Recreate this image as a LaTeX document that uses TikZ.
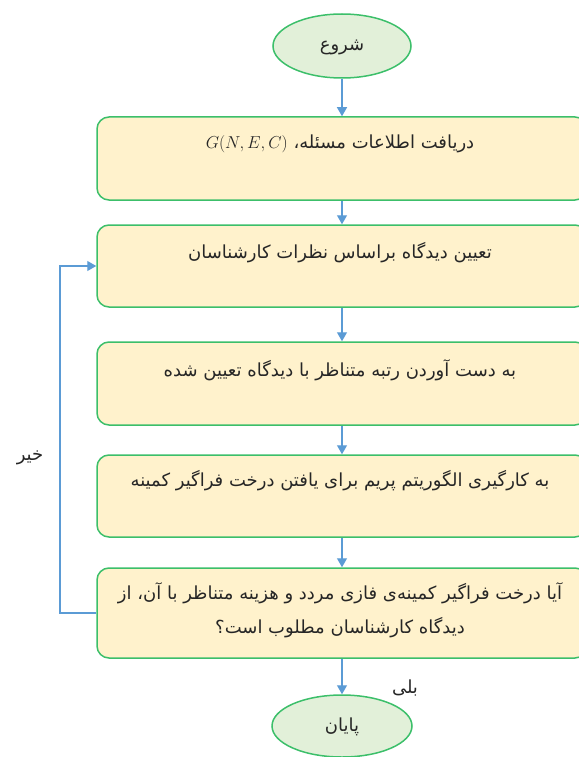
\documentclass[tikz,border=0pt]{standalone}
\usepackage{fontspec}
\usetikzlibrary{arrows.meta,shapes.geometric}
\TeXXeTstate=1
\newfontfamily\fa[Script=Arabic]{DejaVu Sans}
\definecolor{boxfill}{HTML}{FFF2CC}
\definecolor{boxline}{HTML}{3CBF6A}
\definecolor{ellfill}{HTML}{E2F0D9}
\definecolor{arrblue}{HTML}{5B9BD5}
\tikzset{
  stepbox/.style={draw=boxline, fill=boxfill, line width=1.5pt, rounded corners=12pt, minimum width=490pt, inner sep=0pt},
  term/.style={ellipse, draw=boxline, fill=ellfill, line width=1.5pt, inner sep=0pt},
  txt/.style={font=\fa\fontsize{18}{21}\selectfont, text=black!85, inner sep=0pt, align=center},
  arr/.style={draw=arrblue, line width=1.2pt, -{Triangle[length=9pt,width=10pt]}}
}
\begin{document}
\begin{tikzpicture}[x=1pt,y=-1pt]
\useasboundingbox (0,0) rectangle (578,757);
\node[term, minimum width=138pt, minimum height=64pt] (start) at (342,46) {};
\node[txt] (tstart) at (342,47) {\beginR شروع\endR};
\node[stepbox, minimum height=83pt] (b1) at (342,158.5) {};
\node[txt] (t1) at (340,144) {\beginR دریافت اطلاعات مسئله، \beginL$\mathsurround=0pt G(N,E,C)$\endL\endR};
\node[stepbox, minimum height=82pt] (b2) at (342,266) {};
\node[txt] (t2) at (340,253) {\beginR تعیین دیدگاه براساس نظرات کارشناسان\endR};
\node[stepbox, minimum height=83pt] (b3) at (342,383.5) {};
\node[txt] (t3) at (340,370) {\beginR به دست آوردن رتبه متناظر با دیدگاه تعیین شده\endR};
\node[stepbox, minimum height=82pt] (b4) at (342,496) {};
\node[txt] (t4) at (340,481) {\beginR به کارگیری الگوریتم پریم برای یافتن درخت فراگیر کمینه\endR};
\node[stepbox, minimum height=90pt] (b5) at (342,613) {};
\node[txt] (t5a) at (340,593) {\beginR آیا درخت فراگیر کمینه‌ی فازی مردد و هزینه متناظر با آن، از\endR};
\node[txt] (t5b) at (340,628) {\beginR دیدگاه کارشناسان مطلوب است؟\endR};
\node[term, minimum width=140pt, minimum height=62pt] (end) at (342,726) {};
\node[txt] (tend) at (342,727) {\beginR پایان\endR};
\draw[arr] (start) -- (b1);
\draw[arr] (b1) -- (b2);
\draw[arr] (b2) -- (b3);
\draw[arr] (b3) -- (b4);
\draw[arr] (b4) -- (b5);
\draw[arr] (b5) -- (end);
\coordinate (fb) at (60,613);
\draw[arr] (b5.west) -- (fb) |- (b2.west);
\node[txt] (no) at (30,458) {\beginR خیر\endR};
\node[txt] (yes) at (405,688) {\beginR بلی\endR};
\end{tikzpicture}
\end{document}
